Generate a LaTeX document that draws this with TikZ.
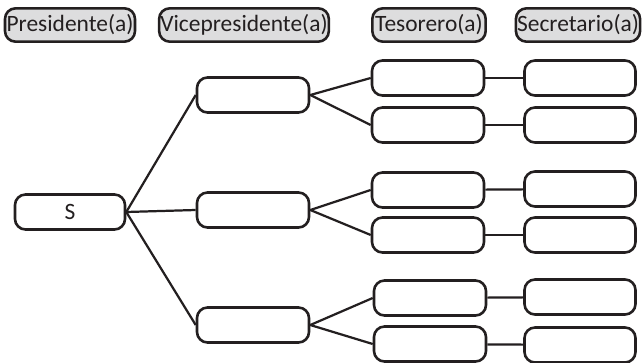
\documentclass[tikz,border=0pt]{standalone}
\usepackage{fontspec}
\setmainfont{Carlito}
\usepackage{tikz}
\usetikzlibrary{positioning}
\definecolor{orgink}{RGB}{35,31,32}
\definecolor{orggray}{RGB}{221,221,222}
\tikzset{
  cargo/.style={draw=orgink, line width=2.2pt, rounded corners=9pt, fill=orggray,
                font=\fontsize{20}{22}\selectfont, text=orgink,
                minimum height=1.0cm, inner xsep=1pt, inner ysep=0pt},
  caja/.style={draw=orgink, line width=2.2pt, rounded corners=9pt, fill=white,
               font=\fontsize{20}{22}\selectfont, text=orgink,
               minimum width=#1, minimum height=1.05cm, inner sep=0pt},
  caja/.default=3.3cm,
  rama/.style={draw=orgink, line width=1.9pt},
}

\begin{document}
\begin{tikzpicture}[x=0.03cm, y=-0.03cm]
\useasboundingbox (0,0) rectangle (642,363);

% --- Headers ---
\node[cargo, minimum width=3.9cm] (hpres) at (70,25) {Presidente(a)};
\node[cargo, minimum width=4.6cm] (hvice) at (244,25) {Vicepresidente(a)};
\node[cargo, minimum width=3.4cm] (htes) at (429,25) {Tesorero(a)};
\node[cargo, minimum width=3.6cm] (hsec) at (578,25) {Secretario(a)};

% --- President ---
\node[caja] (pres) at (70,212) {S};

% --- Vice presidents ---
\node[caja=3.36cm] (vA) at (253,95) {};
\node[caja=3.36cm] (vB) at (253,210) {};
\node[caja=3.36cm] (vC) at (253,325) {};

% --- Treasurers ---
\node[caja=3.36cm] (tA1) at (428,78) {};
\node[caja=3.36cm] (tA2) at (428,125) {};
\node[caja=3.36cm] (tB1) at (428,190) {};
\node[caja=3.36cm] (tB2) at (428,235) {};
\node[caja=3.36cm] (tC1) at (430,298) {};
\node[caja=3.36cm] (tC2) at (430,344) {};

% --- Secretaries ---
\node[caja=3.33cm] (sA1) at (580,78) {};
\node[caja=3.33cm] (sA2) at (580,125) {};
\node[caja=3.33cm] (sB1) at (580,189) {};
\node[caja=3.33cm] (sB2) at (580,235) {};
\node[caja=3.33cm] (sC1) at (580,297) {};
\node[caja=3.33cm] (sC2) at (580,345) {};

% --- Branches ---
\draw[rama] (pres.east) -- (vA.west);
\draw[rama] (pres.east) -- (vB.west);
\draw[rama] (pres.east) -- (vC.west);

\draw[rama] (vA.east) -- (tA1.west);
\draw[rama] (vA.east) -- (tA2.west);
\draw[rama] (vB.east) -- (tB1.west);
\draw[rama] (vB.east) -- (tB2.west);
\draw[rama] (vC.east) -- (tC1.west);
\draw[rama] (vC.east) -- (tC2.west);

\draw[rama] (tA1) -- (sA1);
\draw[rama] (tA2) -- (sA2);
\draw[rama] (tB1) -- (sB1);
\draw[rama] (tB2) -- (sB2);
\draw[rama] (tC1) -- (sC1);
\draw[rama] (tC2) -- (sC2);

\end{tikzpicture}
\end{document}
